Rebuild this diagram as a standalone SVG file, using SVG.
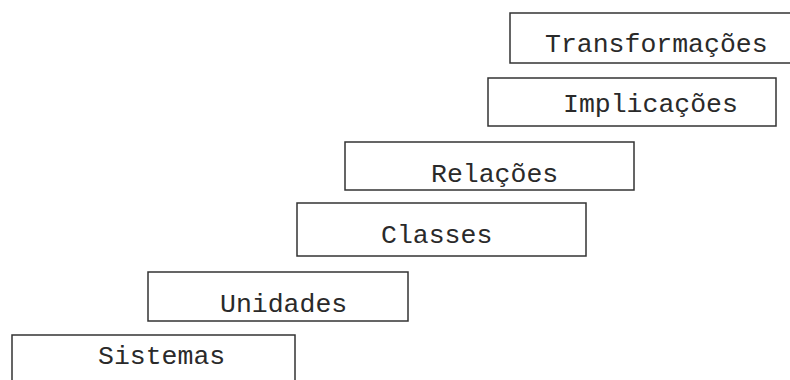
<svg xmlns="http://www.w3.org/2000/svg" width="790" height="380" viewBox="0 0 790 380">
<style>
.box{fill:none;stroke:#333;stroke-width:1.5}
.lbl{font-family:"Liberation Mono","DejaVu Sans Mono",monospace;font-size:26.5px;fill:#2a2a2a}
</style>
<rect width="790" height="380" fill="#fff"/>
<g id="connectors"/>
<g id="transformacoes">
<rect class="box" x="510" y="13" width="300" height="50"/>
<text class="lbl" x="545" y="52">Transformações</text>
</g>
<g id="implicacoes">
<rect class="box" x="488" y="78" width="288" height="48"/>
<text class="lbl" x="563" y="112">Implicações</text>
</g>
<g id="relacoes">
<rect class="box" x="345" y="142" width="289" height="48"/>
<text class="lbl" x="431" y="182">Relações</text>
</g>
<g id="classes">
<rect class="box" x="297" y="203" width="289" height="53"/>
<text class="lbl" x="381" y="243">Classes</text>
</g>
<g id="unidades">
<rect class="box" x="148" y="272" width="260" height="49"/>
<text class="lbl" x="220" y="312">Unidades</text>
</g>
<g id="sistemas">
<rect class="box" x="12" y="335" width="283" height="60"/>
<text class="lbl" x="98" y="364">Sistemas</text>
</g>
</svg>
